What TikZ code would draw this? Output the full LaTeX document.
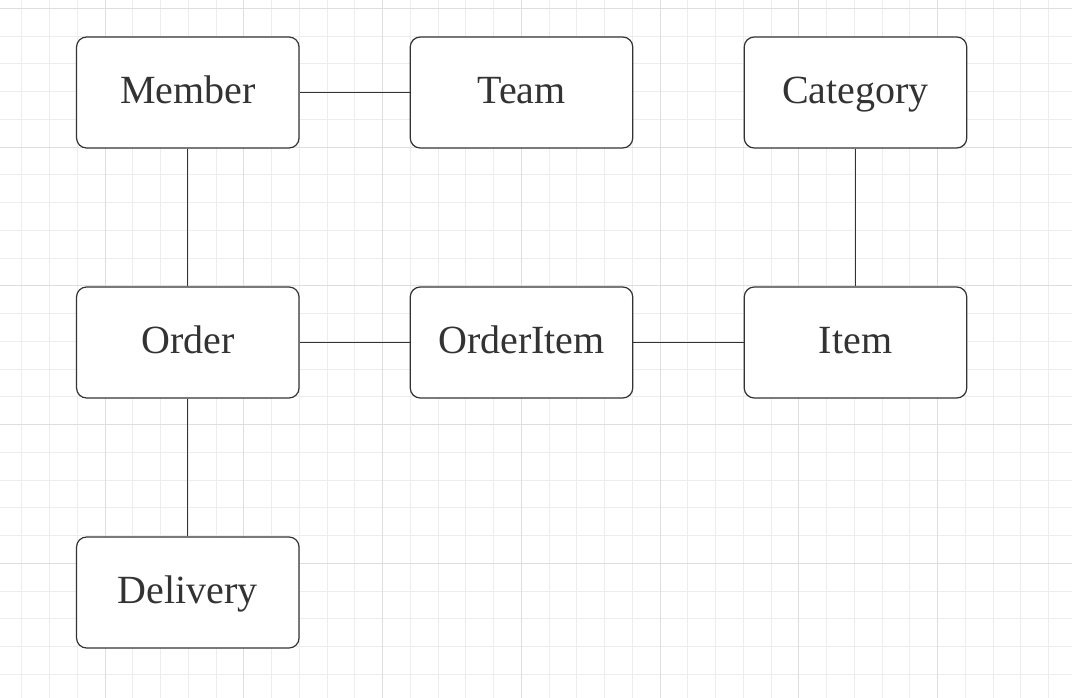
\documentclass[tikz,border=0pt]{standalone}
\usepackage{fontspec}
\setmainfont{Liberation Serif}
\definecolor{minorgrid}{HTML}{EDEDED}
\definecolor{majorgrid}{HTML}{DEDEDE}
\definecolor{ink}{HTML}{333333}
\begin{document}
\begin{tikzpicture}[x=1pt,y=-1pt,
  entity/.style={draw=ink,line width=1.2pt,rounded corners=10pt,fill=white,
    minimum width=222.5pt,minimum height=111pt,inner sep=0pt,
    text height=33pt,text depth=11pt,
    text=ink,font=\fontsize{40}{48}\selectfont},
  link/.style={draw=ink,line width=1.2pt}]
\useasboundingbox (0,0) rectangle (1072,698);
\fill[white] (0,0) rectangle (1072,698);
% minor grid
\foreach \i in {0,...,38} {
  \draw[minorgrid,line width=0.9pt] ({21.75+27.75*\i},0) -- ({21.75+27.75*\i},698);
}
\foreach \j in {0,...,25} {
  \draw[minorgrid,line width=0.9pt] (0,{8.3+27.75*\j}) -- (1072,{8.3+27.75*\j});
}
% major grid
\foreach \i in {0,...,7} {
  \draw[majorgrid,line width=1pt] ({105+138.75*\i},0) -- ({105+138.75*\i},698);
}
\foreach \j in {0,...,5} {
  \draw[majorgrid,line width=1pt] (0,{8.3+138.75*\j}) -- (1072,{8.3+138.75*\j});
}
% entities
\node[entity] (member)   at (187.8,92.5)  {Member};
\node[entity] (team)     at (521.5,92.5)  {Team};
\node[entity] (category) at (855.5,92.5)  {Category};
\node[entity] (order)    at (187.8,342.5) {Order};
\node[entity] (orderitem) at (521.5,342.5) {OrderItem};
\node[entity] (item)     at (855.5,342.5) {Item};
\node[entity] (delivery) at (187.8,592.5) {Delivery};
% connectors
\draw[link] (member) -- (team);
\draw[link] (member) -- (order);
\draw[link] (category) -- (item);
\draw[link] (order) -- (orderitem);
\draw[link] (orderitem) -- (item);
\draw[link] (order) -- (delivery);
\end{tikzpicture}
\end{document}
